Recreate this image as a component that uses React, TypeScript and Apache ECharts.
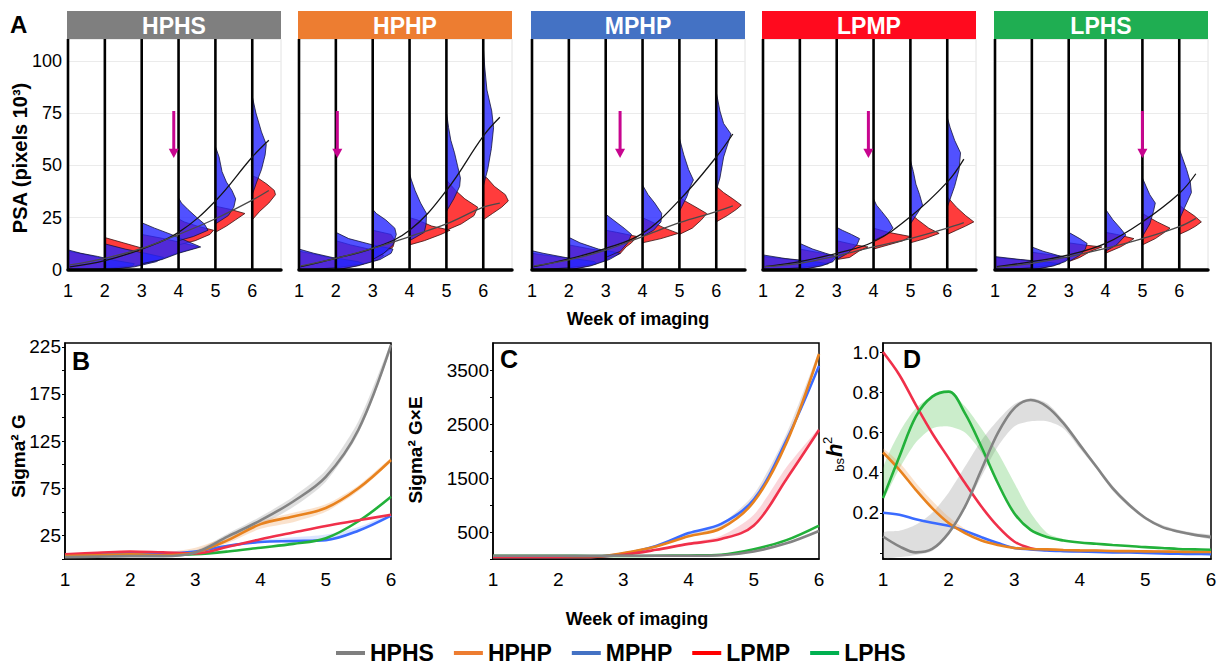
import React, { useEffect, useRef } from 'react';
import * as echarts from 'echarts';

const FONT = 'Liberation Sans, Arial, Helvetica, sans-serif';

// ---------- shared ----------
const groups = ['HPHS', 'HPHP', 'MPHP', 'LPMP', 'LPHS'];
const headerColors = ['#7f7f7f', '#ed7d31', '#4472c4', '#ff0a1e', '#1fae52'];
const legendColors = ['#7f7f7f', '#ed7d31', '#4472c4', '#ff0000', '#00b050'];
const lineColors = ['#838383', '#e8821e', '#3a6bff', '#f0304a', '#22b13a'];

// ---------- panel A (PSA distributions) ----------
const weeks = [1, 2, 3, 4, 5, 6];
const fitWeeks = [1.05, 2, 3, 4, 5, 6, 6.45];

// fitted trend curves (black = blue group, dark grey = red group)
const hphsBlueFit = [1.5, 4.5, 10, 18, 33, 54, 62];
const hphsRedFit = [2.4, 5.6, 10.3, 17, 24.5, 33.4, 38];
const hphpBlueFit = [1.6, 5.6, 10.3, 19, 38, 64, 73];
const hphpRedFit = [2, 5.6, 10.3, 16, 22, 30, 32];
const mphpBlueFit = [1.6, 5.3, 10.3, 17.5, 33.4, 54, 65];
const mphpRedFit = [2, 4.8, 9.5, 16, 22.6, 27.9, 30.6];
const lpmpBlueFit = [1.6, 4, 8, 13.5, 25.5, 42, 53];
const lpmpRedFit = [1.6, 3.2, 6.7, 11, 15, 20, 22.6];
const lphsBlueFit = [1.6, 4, 7.2, 12.7, 23, 36.6, 46];
const lphsRedFit = [1.3, 3.2, 6.4, 10.3, 15, 20.7, 24.7];

// half-violin profiles per week: [PSA value, density width in weeks]
const hphsBlue = [
  [[0, 0], [0.5, 0.9], [2, 1.75], [3, 1.8], [4.5, 1.3], [6.5, 0.8], [8, 0.35], [9.6, 0]],
  [[0, 0], [1.5, 0.8], [4, 1.4], [6, 1.6], [8, 1.1], [10, 0.55], [12.5, 0]],
  [[3, 0], [5, 0.55], [8, 1.0], [11, 1.6], [14, 1.2], [17, 0.8], [20, 0.35], [22.6, 0]],
  [[14, 0], [16, 0.4], [19, 0.8], [22, 0.7], [25, 0.5], [29, 0.25], [32, 0.08], [34.5, 0]],
  [[22, 0], [26, 0.35], [30, 0.5], [34, 0.55], [38, 0.45], [42, 0.3], [47, 0.18], [54, 0.1], [59, 0]],
  [[36, 0], [42, 0.12], [48, 0.25], [55, 0.35], [60, 0.38], [66, 0.25], [75, 0.1], [83, 0]],
];
const hphsRed = [
  [[0, 0], [0.5, 0.85], [2, 1.65], [3, 1.7], [4.5, 1.2], [6.5, 0.7], [8, 0.3], [9, 0]],
  [[0, 0], [1.5, 0.7], [4, 1.3], [6, 1.5], [7.5, 1.4], [9, 1.3], [11, 0.9], [13, 0.5], [15.5, 0]],
  [[3, 0], [5, 0.5], [8, 0.95], [11, 1.55], [13, 1.1], [15, 0.6], [17, 0]],
  [[12, 0], [14, 0.45], [17, 0.85], [19, 0.95], [21, 0.5], [23, 0.15], [24.5, 0]],
  [[18, 0], [21, 0.3], [24, 0.55], [27, 0.8], [29, 0.4], [30.5, 0]],
  [[24, 0], [28, 0.2], [32, 0.45], [36, 0.63], [38, 0.6], [41, 0.4], [44, 0.15], [45, 0]],
];
const hphpBlue = [
  [[0, 0], [1, 1.0], [3, 1.75], [4, 1.6], [6, 0.9], [8, 0.4], [10, 0]],
  [[0, 0], [2, 0.6], [5, 1.2], [8, 1.5], [10, 1.55], [12, 1.0], [15, 0.35], [18, 0]],
  [[5, 0], [8, 0.3], [12, 0.55], [17, 0.64], [20, 0.6], [24, 0.35], [27, 0.1], [29, 0]],
  [[14, 0], [18, 0.4], [22, 0.45], [27, 0.46], [32, 0.3], [38, 0.15], [43, 0.05], [46, 0]],
  [[28, 0], [34, 0.2], [40, 0.36], [44, 0.38], [50, 0.3], [56, 0.22], [62, 0.12], [68, 0.06], [75.5, 0]],
  [[40, 0], [48, 0.12], [58, 0.22], [68, 0.28], [76, 0.23], [86, 0.1], [97, 0.04], [107, 0]],
];
const hphpRed = [
  [[0, 0], [1, 0.95], [3, 1.65], [4, 1.5], [6, 0.8], [8, 0.3], [9, 0]],
  [[0, 0], [2, 0.55], [5, 1.15], [7, 1.3], [8, 1.2], [10, 0.9], [12, 0.4], [14, 0]],
  [[5, 0], [8, 0.3], [11, 0.55], [14, 0.6], [17, 0.5], [19, 0]],
  [[12, 0], [14, 0.4], [17, 0.85], [19, 1.1], [21, 0.6], [24, 0.2], [25, 0]],
  [[19, 0], [22, 0.4], [26, 0.75], [30, 0.85], [34, 0.5], [38, 0.25], [43, 0]],
  [[24, 0], [27, 0.25], [30, 0.5], [33, 0.68], [36, 0.6], [40, 0.3], [44, 0.1], [45, 0]],
];
const mphpBlue = [
  [[0, 0], [1, 1.0], [3, 1.75], [4, 1.7], [6, 0.9], [8, 0.3], [9.2, 0]],
  [[0, 0], [2, 0.6], [5, 1.1], [8, 1.4], [10, 0.8], [13, 0.3], [15.6, 0]],
  [[6, 0], [9, 0.4], [13, 0.6], [17, 0.7], [20, 0.5], [24, 0.2], [26.7, 0]],
  [[16, 0], [19, 0.3], [23, 0.5], [27, 0.52], [32, 0.33], [36, 0.15], [40.6, 0]],
  [[28, 0], [35, 0.2], [40, 0.3], [43, 0.38], [48, 0.25], [55, 0.12], [63, 0]],
  [[38, 0], [44, 0.1], [54, 0.2], [65, 0.4], [70, 0.2], [76, 0.1], [85, 0]],
];
const mphpRed = [
  [[0, 0], [1, 0.95], [3, 1.7], [4, 1.6], [6, 0.8], [8, 0]],
  [[0, 0], [2, 0.55], [5, 1.05], [8, 1.3], [10, 0.6], [12, 0]],
  [[5, 0], [8, 0.4], [11, 0.55], [13, 0.7], [16, 0.85], [18, 0.3], [19, 0]],
  [[13, 0], [15, 0.5], [17.5, 0.97], [20, 0.6], [23, 0.25], [25, 0]],
  [[17, 0], [20, 0.35], [24, 0.6], [27, 0.74], [30, 0.45], [33, 0.15], [35, 0]],
  [[23, 0], [26, 0.3], [29, 0.55], [31, 0.68], [34, 0.45], [37, 0.2], [40, 0]],
];
const lpmpBlue = [
  [[0, 0], [1, 1.0], [3, 1.77], [4, 1.4], [5.5, 0.6], [7.2, 0]],
  [[0, 0], [2, 0.6], [4, 0.9], [6.4, 1.0], [8, 0.7], [10, 0.35], [12.7, 0]],
  [[5, 0], [8, 0.3], [12, 0.55], [15, 0.62], [17, 0.4], [19, 0.15], [20.4, 0]],
  [[14, 0], [17, 0.35], [20, 0.53], [24, 0.4], [28, 0.22], [31, 0.08], [34, 0]],
  [[22, 0], [26, 0.15], [31, 0.33], [36, 0.25], [41, 0.15], [47, 0.08], [52.5, 0]],
  [[30, 0], [35, 0.1], [40, 0.2], [48, 0.32], [56, 0.36], [62, 0.2], [68, 0.08], [73, 0]],
];
const lpmpRed = [
  [[0, 0], [1, 0.95], [3, 1.7], [4, 1.3], [5.5, 0.5], [6.5, 0]],
  [[0, 0], [2, 0.55], [4, 0.85], [6.4, 0.95], [8, 0.6], [10, 0]],
  [[5, 0], [6, 0.35], [9, 0.6], [11, 0.85], [12, 0.5], [14, 0]],
  [[10, 0], [12, 0.4], [14, 0.8], [16, 1.0], [18, 0.4], [20, 0]],
  [[13, 0], [15, 0.4], [17.5, 0.78], [20, 0.5], [24, 0.2], [27, 0]],
  [[17, 0], [19, 0.25], [21, 0.5], [23, 0.72], [26, 0.5], [30, 0.25], [35, 0]],
];
const lphsBlue = [
  [[0, 0], [1, 1.0], [3, 1.77], [4, 1.3], [5, 0.7], [6.4, 0]],
  [[0, 0], [2, 0.6], [4, 0.9], [5.6, 1.04], [7, 0.7], [9, 0.3], [11, 0]],
  [[4, 0], [7, 0.3], [10, 0.45], [12.7, 0.5], [15, 0.3], [18, 0]],
  [[9, 0], [12, 0.3], [16.7, 0.55], [20, 0.4], [24, 0.2], [29, 0]],
  [[16, 0], [22, 0.2], [28, 0.3], [32, 0.35], [36, 0.2], [40, 0.1], [44, 0]],
  [[24, 0], [30, 0.15], [37, 0.33], [42, 0.3], [48, 0.2], [53, 0.1], [58, 0]],
];
const lphsRed = [
  [[0, 0], [1, 0.95], [3, 1.7], [4, 1.2], [5, 0.6], [6, 0]],
  [[0, 0], [2, 0.55], [4, 0.85], [5.6, 1.0], [7, 0.6], [8.5, 0]],
  [[4, 0], [6, 0.3], [9, 0.6], [11, 0.9], [12, 0.4], [13, 0]],
  [[8, 0], [11, 0.4], [13, 0.6], [15, 0.77], [17, 0.3], [18, 0]],
  [[12, 0], [15, 0.35], [18, 0.6], [20, 0.75], [23, 0.4], [26, 0.1], [27, 0]],
  [[17, 0], [19, 0.25], [21, 0.45], [23, 0.6], [26, 0.4], [29, 0.15], [31, 0]],
];
const arrowWeeks = [3.87, 2.04, 3.39, 3.86, 5.0];
const arrowValues = [76, 58, 53.5]; // shaft top, head base, tip

// ---------- panel B (Sigma² G) ----------
const weeksHalf = [1, 1.5, 2, 2.5, 3, 3.5, 4, 4.5, 5, 5.5, 6];
const gHPHS = [2, 2.5, 3, 3, 7, 24, 41, 61, 87, 137, 227];
const gHPHP = [3, 4, 5, 4, 7, 20, 37, 45, 54, 75, 105];
const gMPHP = [4, 5.5, 7, 6, 8, 14, 18, 19, 20, 30, 46];
const gLPMP = [5, 6.5, 8, 7, 6, 13, 21, 28, 35, 41, 47];
const gLPHS = [3, 3.5, 4, 4, 5, 8, 12, 16, 22, 40, 66];
const gHPHSLo = [2, 2.5, 3, 3, 5, 20, 36, 55, 82, 133, 222];
const gHPHSHi = [2, 2.5, 3, 3, 9, 27, 45, 66, 94, 146, 229];
const gHPHPLo = [3, 4, 5, 4, 6, 17, 32, 39, 50, 72, 103];
const gHPHPHi = [3, 4, 5, 7, 12, 24, 40, 49, 58, 78, 107];
const gMPHPHi = [4, 5.5, 7, 6, 9, 15, 20, 23, 26, 34, 48];

// ---------- panel C (Sigma² G×E) ----------
const geHPHS = [60, 60, 60, 60, 60, 60, 60, 70, 140, 290, 520];
const geHPHP = [40, 40, 40, 40, 110, 230, 420, 570, 1060, 2150, 3800];
const geMPHP = [40, 40, 40, 40, 100, 240, 480, 650, 1100, 2200, 3580];
const geLPMP = [40, 40, 40, 40, 80, 170, 280, 370, 620, 1480, 2390];
const geLPHS = [60, 60, 60, 55, 55, 60, 65, 80, 180, 350, 620];
const geLPMPHi = [40, 40, 40, 40, 80, 180, 300, 430, 820, 1700, 2430];
const geHPHPHi = [40, 40, 40, 40, 110, 245, 470, 660, 1200, 2320, 3850];

// ---------- panel D (bs h²) ----------
const weeksQuarter = [1, 1.25, 1.5, 1.75, 2, 2.25, 2.5, 2.75, 3, 3.25, 3.5, 3.75, 4, 4.25, 4.5, 4.75, 5, 5.25, 5.5, 5.75, 6];
const hHPHS = [0.082, 0.033, 0.003, 0.02, 0.099, 0.231, 0.414, 0.596, 0.72, 0.761, 0.728, 0.646, 0.538, 0.43, 0.323, 0.24, 0.174, 0.13, 0.107, 0.09, 0.079];
const hHPHP = [0.5, 0.414, 0.314, 0.223, 0.149, 0.099, 0.062, 0.04, 0.025, 0.02, 0.018, 0.015, 0.013, 0.012, 0.01, 0.009, 0.008, 0.007, 0.006, 0.005, 0.005];
const hMPHP = [0.2, 0.19, 0.168, 0.15, 0.135, 0.11, 0.079, 0.05, 0.025, 0.018, 0.012, 0.009, 0.007, 0.005, 0.003, 0.002, 0, -0.002, -0.004, -0.005, -0.006];
const hLPMP = [1.0, 0.886, 0.737, 0.596, 0.472, 0.348, 0.231, 0.132, 0.057, 0.024, 0.015, 0.012, 0.01, 0.009, 0.008, 0.007, 0.006, 0.005, 0.005, 0.004, 0.004];
const hLPHS = [0.273, 0.48, 0.679, 0.778, 0.803, 0.695, 0.529, 0.348, 0.198, 0.115, 0.079, 0.062, 0.052, 0.046, 0.04, 0.035, 0.029, 0.025, 0.02, 0.018, 0.016];
const hHPHSLo = [-0.02, -0.02, -0.01, 0.01, 0.09, 0.22, 0.38, 0.53, 0.63, 0.655, 0.655, 0.62, 0.52, 0.42, 0.31, 0.23, 0.165, 0.125, 0.1, 0.085, 0.07];
const hHPHSHi = [0.1, 0.11, 0.14, 0.2, 0.3, 0.43, 0.56, 0.66, 0.74, 0.77, 0.745, 0.66, 0.55, 0.44, 0.335, 0.25, 0.18, 0.14, 0.115, 0.1, 0.09];
const hLPHSLo = [0.27, 0.42, 0.55, 0.62, 0.63, 0.6, 0.5, 0.34, 0.198, 0.115, 0.079, 0.062, 0.05, 0.046, 0.04, 0.035, 0.029, 0.025, 0.02, 0.018, 0.016];
const hLPHSHi = [0.42, 0.6, 0.72, 0.78, 0.803, 0.73, 0.62, 0.5, 0.35, 0.2, 0.1, 0.07, 0.055, 0.046, 0.04, 0.035, 0.029, 0.025, 0.02, 0.018, 0.016];
const hHPHPHi = [0.52, 0.45, 0.35, 0.26, 0.18, 0.12, 0.075, 0.045, 0.028, 0.02, 0.018, 0.015, 0.013, 0.012, 0.01, 0.009, 0.008, 0.007, 0.006, 0.005, 0.005];

// ---------- layout ----------
const topLefts = [68, 299, 532, 763, 995];
const topMax = 110.4;
const bottomGrids = [
  { left: 65, top: 343, width: 326, height: 216 },
  { left: 493, top: 343, width: 326, height: 216 },
  { left: 883, top: 343, width: 328, height: 216 },
];

function buildOption() {
  const grid: any[] = [];
  const xAxis: any[] = [];
  const yAxis: any[] = [];
  const series: any[] = [];
  const graphic: any[] = [];

  const blueFits = [hphsBlueFit, hphpBlueFit, mphpBlueFit, lpmpBlueFit, lphsBlueFit];
  const redFits = [hphsRedFit, hphpRedFit, mphpRedFit, lpmpRedFit, lphsRedFit];
  const blues = [hphsBlue, hphpBlue, mphpBlue, lpmpBlue, lphsBlue];
  const reds = [hphsRed, hphpRed, mphpRed, lpmpRed, lphsRed];

  const violin = (gi: number, profiles: number[][][], fill: string, stroke: string) => ({
    type: 'custom',
    xAxisIndex: gi,
    yAxisIndex: gi,
    silent: true,
    z: 2,
    data: weeks.map((w) => [w]),
    renderItem: (params: any, api: any) => {
      const w = api.value(0);
      const prof = profiles[params.dataIndex];
      const pts = prof.map(([v, d]) => api.coord([w + d, v]));
      return {
        type: 'polygon',
        shape: { points: pts },
        style: { fill, stroke, lineWidth: 0.8 },
      };
    },
  });

  for (let i = 0; i < 5; i++) {
    grid.push({
      left: topLefts[i], top: 39, width: 213, height: 231,
      show: true, borderColor: '#e2e2e2', borderWidth: 1, backgroundColor: 'transparent',
    });
    xAxis.push({
      type: 'value', gridIndex: i, min: 1, max: 6.78, interval: 1, z: 6,
      axisLine: { show: true, onZero: false, lineStyle: { color: '#000', width: 3.5 } },
      axisTick: { show: false },
      splitLine: { show: false },
      axisLabel: {
        fontSize: 18, color: '#000', margin: 12, fontFamily: FONT,
        formatter: (v: number) => (Number.isInteger(v) ? String(v) : ''),
      },
    });
    yAxis.push({
      type: 'value', gridIndex: i, min: 0, max: topMax, interval: 25,
      axisLine: { show: false }, axisTick: { show: false },
      splitLine: { show: true, lineStyle: { color: '#ebebeb', width: 1 } },
      axisLabel: {
        show: i === 0, fontSize: 18, color: '#000', margin: 6, fontFamily: FONT,
        formatter: (v: number) => (v % 25 === 0 ? String(v) : ''),
      },
    });

    series.push(violin(i, reds[i], 'rgba(255,60,60,1)', '#3a1212'));
    series.push(violin(i, blues[i], 'rgba(38,38,255,0.8)', '#15153a'));

    series.push({
      type: 'custom', xAxisIndex: i, yAxisIndex: i, silent: true, z: 3,
      data: weeks.map((w) => [w]),
      renderItem: (params: any, api: any) => {
        const p0 = api.coord([api.value(0), 0]);
        const p1 = api.coord([api.value(0), topMax]);
        return {
          type: 'line',
          shape: { x1: p0[0], y1: p0[1], x2: p1[0], y2: p1[1] },
          style: { stroke: '#000', lineWidth: 2.6 },
        };
      },
    });

    series.push({
      type: 'line', xAxisIndex: i, yAxisIndex: i, silent: true, z: 4,
      data: fitWeeks.map((x, k) => [x, blueFits[i][k]]),
      smooth: 0.4, symbol: 'none', showSymbol: false,
      lineStyle: { color: '#151515', width: 1.3 },
    });
    series.push({
      type: 'line', xAxisIndex: i, yAxisIndex: i, silent: true, z: 4,
      data: fitWeeks.map((x, k) => [x, redFits[i][k]]),
      smooth: 0.4, symbol: 'none', showSymbol: false,
      lineStyle: { color: '#4a4a4a', width: 1.3 },
    });

    series.push({
      type: 'custom', xAxisIndex: i, yAxisIndex: i, silent: true, z: 5,
      data: [[arrowWeeks[i], arrowValues[0], arrowValues[1], arrowValues[2]]],
      renderItem: (params: any, api: any) => {
        const w = api.value(0);
        const a = api.coord([w, api.value(1)]);
        const b = api.coord([w, api.value(2)]);
        const c = api.coord([w, api.value(3)]);
        return {
          type: 'group',
          children: [
            { type: 'line', shape: { x1: a[0], y1: a[1], x2: b[0], y2: b[1] + 1 }, style: { stroke: '#c8058f', lineWidth: 3 } },
            { type: 'polygon', shape: { points: [[b[0] - 5, b[1]], [b[0] + 5, b[1]], [c[0], c[1]]] }, style: { fill: '#c8058f' } },
          ],
        };
      },
    });

    graphic.push({
      type: 'rect', z: 10,
      shape: { x: topLefts[i] - 1, y: 11, width: 214, height: 28 },
      style: { fill: headerColors[i] },
    });
    graphic.push({
      type: 'text', z: 11, x: topLefts[i] - 1 + 107, y: 26,
      style: {
        text: groups[i], fill: '#fff', font: `bold 23px ${FONT}`,
        align: 'center', verticalAlign: 'middle', textAlign: 'center', textVerticalAlign: 'middle',
      },
    });
  }

  // bottom panels
  const yMaxes = [229, 4004, 1.045];
  const yMins = [0, 0, -0.03];
  const labelVals = [[25, 75, 125, 175, 225], [500, 1500, 2500, 3500], [0.2, 0.4, 0.6, 0.8, 1.0]];
  const tickVals = [[0, 25, 50, 75, 100, 125, 150, 175, 200, 225], [0, 500, 1000, 1500, 2000, 2500, 3000, 3500], [0, 0.2, 0.4, 0.6, 0.8, 1.0]];
  bottomGrids.forEach((g, j) => {
    const gi = 5 + j;
    grid.push({ ...g, show: true, borderColor: '#000', borderWidth: 1.5, backgroundColor: 'transparent' });
    xAxis.push({
      type: 'value', gridIndex: gi, min: 1, max: 6, interval: 1,
      axisLine: { show: true, onZero: false, lineStyle: { color: '#000', width: 1.5 } },
      axisTick: { show: false }, splitLine: { show: false },
      axisLabel: { fontSize: 19, color: '#000', margin: 11, fontFamily: FONT },
    });
    yAxis.push({
      type: 'value', gridIndex: gi, min: yMins[j], max: yMaxes[j],
      axisLine: { show: true, lineStyle: { color: '#000', width: 1.5 } },
      axisTick: { show: true, length: 3, customValues: tickVals[j], lineStyle: { color: '#000' } },
      splitLine: { show: false },
      axisLabel: {
        fontSize: 19, color: '#000', margin: 4, fontFamily: FONT, customValues: labelVals[j],
        formatter: (v: number) => (j === 2 ? v.toFixed(1) : String(v)),
      },
    });
  });

  const band = (gi: number, xs: number[], lo: number[], hi: number[], color: string) => ({
    type: 'custom', xAxisIndex: gi, yAxisIndex: gi, silent: true, z: 1, clip: true,
    data: [[xs[0], lo[0]]],
    renderItem: (params: any, api: any) => {
      const up = xs.map((x, k) => api.coord([x, hi[k]]));
      const dn = xs.map((x, k) => api.coord([x, lo[k]])).reverse();
      return { type: 'polygon', shape: { points: up.concat(dn), smooth: 0.25 }, style: { fill: color } };
    },
  });
  const line = (gi: number, k: number, xs: number[], vals: number[]) => ({
    type: 'line', name: groups[k], xAxisIndex: gi, yAxisIndex: gi, z: 3,
    data: xs.map((x, i) => [x, vals[i]]),
    smooth: 0.35, symbol: 'none', showSymbol: false,
    lineStyle: { color: lineColors[k], width: 2.6 },
    itemStyle: { color: lineColors[k] },
  });

  // B
  series.push(band(5, weeksHalf, gHPHSLo, gHPHSHi, 'rgba(150,150,150,0.3)'));
  series.push(band(5, weeksHalf, gHPHPLo, gHPHPHi, 'rgba(240,160,90,0.3)'));
  series.push(band(5, weeksHalf, gMPHP, gMPHPHi, 'rgba(90,130,255,0.22)'));
  series.push(line(5, 2, weeksHalf, gMPHP));
  series.push(line(5, 4, weeksHalf, gLPHS));
  series.push(line(5, 3, weeksHalf, gLPMP));
  series.push(line(5, 1, weeksHalf, gHPHP));
  series.push(line(5, 0, weeksHalf, gHPHS));
  // C
  series.push(band(6, weeksHalf, geLPMP, geLPMPHi, 'rgba(240,90,110,0.25)'));
  series.push(band(6, weeksHalf, geHPHP, geHPHPHi, 'rgba(170,150,150,0.3)'));
  series.push(line(6, 2, weeksHalf, geMPHP));
  series.push(line(6, 1, weeksHalf, geHPHP));
  series.push(line(6, 3, weeksHalf, geLPMP));
  series.push(line(6, 4, weeksHalf, geLPHS));
  series.push(line(6, 0, weeksHalf, geHPHS));
  // D
  series.push(band(7, weeksQuarter, hHPHSLo, hHPHSHi, 'rgba(160,160,160,0.35)'));
  series.push(band(7, weeksQuarter, hLPHSLo, hLPHSHi, 'rgba(70,190,70,0.28)'));
  series.push(band(7, weeksQuarter, hHPHP, hHPHPHi, 'rgba(240,160,90,0.3)'));
  series.push(line(7, 3, weeksQuarter, hLPMP));
  series.push(line(7, 2, weeksQuarter, hMPHP));
  series.push(line(7, 1, weeksQuarter, hHPHP));
  series.push(line(7, 4, weeksQuarter, hLPHS));
  series.push(line(7, 0, weeksQuarter, hHPHS));

  const txt = (text: string, x: number, y: number, font: string, rotation = 0, align = 'center') => ({
    type: 'text', z: 12, x, y, rotation,
    style: { text, fill: '#000', font, align, verticalAlign: 'middle', textAlign: align, textVerticalAlign: 'middle' },
  });
  graphic.push(txt('A', 10, 24, `bold 24px ${FONT}`, 0, 'left'));
  graphic.push(txt('B', 72, 361, `bold 25px ${FONT}`, 0, 'left'));
  graphic.push(txt('C', 500, 359, `bold 25px ${FONT}`, 0, 'left'));
  graphic.push(txt('D', 903, 359, `bold 25px ${FONT}`, 0, 'left'));
  graphic.push(txt('PSA (pixels 10³)', 20, 158, `bold 20px ${FONT}`, Math.PI / 2));
  graphic.push(txt('Sigma² G', 18, 456, `bold 19px ${FONT}`, Math.PI / 2));
  graphic.push(txt('Sigma² G×E', 415, 450, `bold 19px ${FONT}`, Math.PI / 2));
  graphic.push(txt('Week of imaging', 638, 319, `bold 18px ${FONT}`));
  graphic.push(txt('Week of imaging', 637, 619, `bold 18px ${FONT}`));
  graphic.push({
    type: 'group', x: 834, y: 449, rotation: Math.PI / 2,
    children: [
      { type: 'text', x: -9, y: 5, style: { text: 'bs', fill: '#000', font: `13px ${FONT}`, align: 'right', verticalAlign: 'middle', textAlign: 'right', textVerticalAlign: 'middle' } },
      { type: 'text', x: -8, y: 0, style: { text: 'h', fill: '#000', font: `italic bold 22px ${FONT}`, align: 'left', verticalAlign: 'middle', textAlign: 'left', textVerticalAlign: 'middle' } },
      { type: 'text', x: 5, y: -7, style: { text: '2', fill: '#000', font: `13px ${FONT}`, align: 'left', verticalAlign: 'middle', textAlign: 'left', textVerticalAlign: 'middle' } },
    ],
  });

  return {
    animation: false,
    textStyle: { fontFamily: FONT },
    grid, xAxis, yAxis, series, graphic,
    legend: {
      data: groups.map((g, k) => ({ name: g, itemStyle: { color: legendColors[k] } })),
      icon: 'rect', itemWidth: 29, itemHeight: 4, itemGap: 20,
      left: 336, top: 641, selectedMode: false, padding: 0,
      textStyle: { fontSize: 23, lineHeight: 24, fontWeight: 'bold', color: '#000', fontFamily: FONT },
    },
  };
}

export default function App() {
  const ref = useRef<HTMLDivElement>(null);
  useEffect(() => {
    if (!ref.current) return;
    const chart = echarts.init(ref.current, null, { renderer: 'svg' });
    chart.setOption(buildOption() as any);
    return () => chart.dispose();
  }, []);
  return (
    <div
      ref={ref}
      style={{ position: 'fixed', left: 0, top: 0, width: 1220, height: 666, background: '#fff' }}
    />
  );
}
